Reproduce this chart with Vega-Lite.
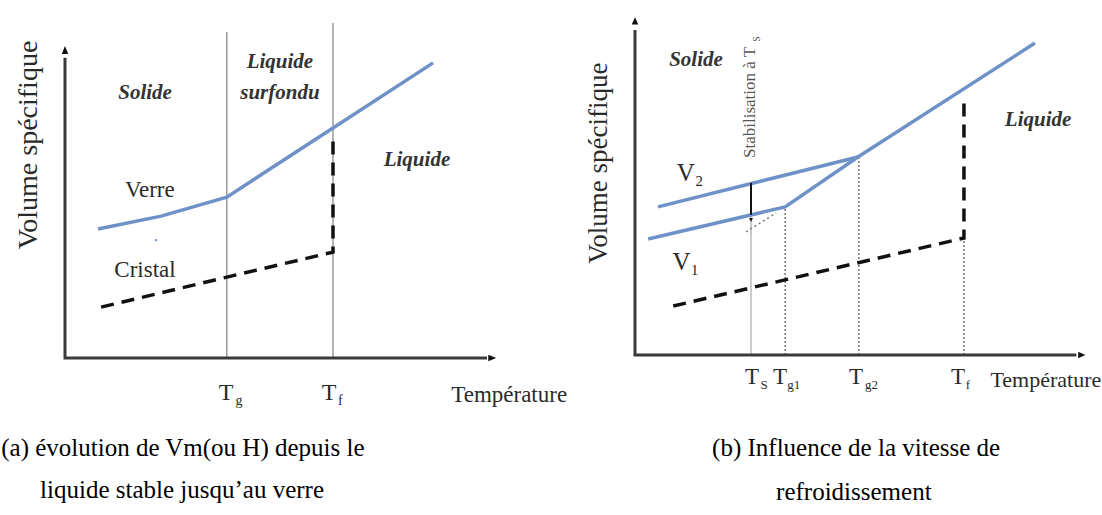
{
  "$schema": "https://vega.github.io/schema/vega-lite/v6.json",
  "background": "white",
  "padding": 0,
  "spacing": 0,
  "bounds": "flush",
  "config": {"view": {"stroke": null}, "text": {"font": "Liberation Serif", "baseline": "middle", "align": "center", "color": "#2a2a2a"}},
  "hconcat": [
    {
      "width": 551,
      "height": 515,
      "encoding": {
        "x": {"field": "t", "type": "quantitative", "scale": {"domain": [-14.25, 112.4], "nice": false, "zero": false}, "axis": null},
        "y": {"field": "v", "type": "quantitative", "scale": {"domain": [-49.7, 113.3], "nice": false, "zero": false}, "axis": null}
      },
      "layer": [
        {"data": {"values": [{"t": 37.2, "v": 0, "v2": 103.2}, {"t": 61.6, "v": 0, "v2": 106}]},
         "mark": {"type": "rule", "color": "#666", "strokeWidth": 1},
         "encoding": {"y2": {"field": "v2"}}},
        {"data": {"values": [{"o": 1, "t": 0, "v": 95}, {"o": 2, "t": 0, "v": 0}, {"o": 3, "t": 97, "v": 0}]},
         "mark": {"type": "line", "color": "#3a3a3a", "strokeWidth": 3, "strokeJoin": "miter"},
         "encoding": {"order": {"field": "o"}}},
        {"data": {"values": [{"t": 0, "v": 97.5, "a": 0}, {"t": 98.2, "v": 0, "a": 90}]},
         "mark": {"type": "point", "shape": "M-0.4,0.5L0,-0.5L0.4,0.5Z", "filled": true, "color": "#111", "size": 256, "opacity": 1},
         "encoding": {"angle": {"field": "a", "type": "quantitative", "scale": null}}},
        {"data": {"values": [{"o": 1, "t": 7.6, "v": 40.8}, {"o": 2, "t": 22.1, "v": 44.9}, {"o": 3, "t": 37.2, "v": 50.9}, {"o": 4, "t": 61.6, "v": 72.8}, {"o": 5, "t": 84.6, "v": 93.4}]},
         "mark": {"type": "line", "color": "#6e92c8", "strokeWidth": 3.5},
         "encoding": {"order": {"field": "o"}}},
        {"data": {"values": [{"o": 1, "t": 8.3, "v": 16.1}, {"o": 2, "t": 37.2, "v": 25.6}, {"o": 3, "t": 61.6, "v": 33.5}, {"o": 4, "t": 61.6, "v": 69.0}]},
         "mark": {"type": "line", "color": "#111", "strokeWidth": 3.5, "strokeDash": [13, 8]},
         "encoding": {"order": {"field": "o"}}},
        {"data": {"values": [{"t": 20.9, "v": 37.3}]},
         "mark": {"type": "point", "filled": true, "color": "#6e92c8", "size": 6, "opacity": 1}},
        {"data": {"values": [{"t": 18.4, "v": 83.9, "txt": "Solide"}, {"t": 49.4, "v": 93.7, "txt": "Liquide"}, {"t": 49.4, "v": 83.9, "txt": "surfondu"}, {"t": 80.9, "v": 62.7, "txt": "Liquide"}]},
         "mark": {"type": "text", "fontSize": 21, "fontWeight": "bold", "fontStyle": "italic", "color": "#333"},
         "encoding": {"text": {"field": "txt"}}},
        {"data": {"values": [{"t": 19.5, "v": 53.2, "txt": "Verre"}, {"t": 18.4, "v": 27.8, "txt": "Cristal"}]},
         "mark": {"type": "text", "fontSize": 23},
         "encoding": {"text": {"field": "txt"}}},
        {"data": {"values": [{"t": 37.0, "v": -11.1, "txt": "T"}, {"t": 60.7, "v": -11.1, "txt": "T"}]},
         "mark": {"type": "text", "fontSize": 24},
         "encoding": {"text": {"field": "txt"}}},
        {"data": {"values": [{"t": 40.0, "v": -13.6, "txt": "g"}, {"t": 63.3, "v": -13.6, "txt": "f"}]},
         "mark": {"type": "text", "fontSize": 14},
         "encoding": {"text": {"field": "txt"}}},
        {"data": {"values": [{"t": 102.1, "v": -11.7, "txt": "Température"}]},
         "mark": {"type": "text", "fontSize": 23},
         "encoding": {"text": {"field": "txt"}}},
        {"data": {"values": [{"t": -8.3, "v": 67.4, "txt": "Volume spécifique"}]},
         "mark": {"type": "text", "fontSize": 28, "angle": 270},
         "encoding": {"text": {"field": "txt"}}},
        {"data": {"values": [{"t": 27.1, "v": -28.5, "txt": "(a) évolution de Vm(ou H) depuis le"}, {"t": 26.9, "v": -41.8, "txt": "liquide stable jusqu’au verre"}]},
         "mark": {"type": "text", "fontSize": 25, "color": "#000"},
         "encoding": {"text": {"field": "txt"}}}
      ]
    },
    {
      "width": 551,
      "height": 515,
      "encoding": {
        "x": {"field": "t", "type": "quantitative", "scale": {"domain": [-17.8, 103.3], "nice": false, "zero": false}, "axis": null},
        "y": {"field": "v", "type": "quantitative", "scale": {"domain": [-46.8, 103.8], "nice": false, "zero": false}, "axis": null}
      },
      "layer": [
        {"data": {"values": [{"t": 25.5, "v": 0, "v2": 50.3}]},
         "mark": {"type": "rule", "color": "#999", "strokeWidth": 1},
         "encoding": {"y2": {"field": "v2"}}},
        {"data": {"values": [{"t": 33.0, "v": 0, "v2": 43.3}, {"t": 49.2, "v": 0, "v2": 57.9}, {"t": 72.3, "v": 0, "v2": 34.2}]},
         "mark": {"type": "rule", "color": "#555", "strokeWidth": 1.2, "strokeDash": [2, 2]},
         "encoding": {"y2": {"field": "v2"}}},
        {"data": {"values": [{"o": 1, "t": 0, "v": 95}, {"o": 2, "t": 0, "v": 0}, {"o": 3, "t": 97, "v": 0}]},
         "mark": {"type": "line", "color": "#3a3a3a", "strokeWidth": 3, "strokeJoin": "miter"},
         "encoding": {"order": {"field": "o"}}},
        {"data": {"values": [{"t": 0, "v": 97.7, "a": 0}, {"t": 98.2, "v": 0, "a": 90}]},
         "mark": {"type": "point", "shape": "M-0.45,0.5L0,-0.5L0.45,0.5Z", "filled": true, "color": "#111", "size": 210, "opacity": 1},
         "encoding": {"angle": {"field": "a", "type": "quantitative", "scale": null}}},
        {"data": {"values": [{"o": 1, "t": 24.4, "v": 36.0}, {"o": 2, "t": 31.0, "v": 41.5}]},
         "mark": {"type": "line", "color": "#777", "strokeWidth": 1.5, "strokeDash": [2, 3]},
         "encoding": {"order": {"field": "o"}}},
        {"data": {"values": [{"o": 1, "t": 5.05, "v": 43.3}, {"o": 2, "t": 49.0, "v": 57.9}]},
         "mark": {"type": "line", "color": "#6e92c8", "strokeWidth": 3.5},
         "encoding": {"order": {"field": "o"}}},
        {"data": {"values": [{"o": 1, "t": 2.9, "v": 33.9}, {"o": 2, "t": 33.0, "v": 43.3}, {"o": 3, "t": 49.0, "v": 57.9}, {"o": 4, "t": 87.9, "v": 91.2}]},
         "mark": {"type": "line", "color": "#6e92c8", "strokeWidth": 3.5},
         "encoding": {"order": {"field": "o"}}},
        {"data": {"values": [{"t": 25.5, "v": 50.3, "v2": 41.0}]},
         "mark": {"type": "rule", "color": "#111", "strokeWidth": 2},
         "encoding": {"y2": {"field": "v2"}}},
        {"data": {"values": [{"t": 25.5, "v": 39.5}]},
         "mark": {"type": "point", "shape": "M-0.5,-0.5L0.5,-0.5L0,0.5Z", "filled": true, "color": "#111", "size": 64, "opacity": 1}},
        {"data": {"values": [{"o": 1, "t": 8.4, "v": 14.3}, {"o": 2, "t": 72.3, "v": 34.2}, {"o": 3, "t": 72.3, "v": 74.6}]},
         "mark": {"type": "line", "color": "#111", "strokeWidth": 3.5, "strokeDash": [13, 8]},
         "encoding": {"order": {"field": "o"}}},
        {"data": {"values": [{"t": 13.4, "v": 86.3, "txt": "Solide"}, {"t": 88.6, "v": 68.7, "txt": "Liquide"}]},
         "mark": {"type": "text", "fontSize": 21, "fontWeight": "bold", "fontStyle": "italic", "color": "#333"},
         "encoding": {"text": {"field": "txt"}}},
        {"data": {"values": [{"t": 12.1, "v": 53.2, "txt": "V₂"}, {"t": 11.2, "v": 27.2, "txt": "V₁"}]},
         "mark": {"type": "text", "fontSize": 25},
         "encoding": {"text": {"field": "txt"}}},
        {"data": {"values": [{"t": 25.3, "v": 90.1, "txt": "Stabilisation à T"}]},
         "mark": {"type": "text", "fontSize": 17, "angle": 270, "align": "right", "color": "#555"},
         "encoding": {"text": {"field": "txt"}}},
        {"data": {"values": [{"t": 26.8, "v": 92.4, "txt": "S"}]},
         "mark": {"type": "text", "fontSize": 10, "angle": 270, "color": "#555"},
         "encoding": {"text": {"field": "txt"}}},
        {"data": {"values": [{"t": 25.7, "v": -6.4, "txt": "T"}, {"t": 31.9, "v": -6.4, "txt": "T"}, {"t": 48.6, "v": -6.4, "txt": "T"}, {"t": 71.0, "v": -6.4, "txt": "T"}]},
         "mark": {"type": "text", "fontSize": 23},
         "encoding": {"text": {"field": "txt"}}},
        {"data": {"values": [{"t": 28.4, "v": -8.8, "txt": "S"}, {"t": 34.9, "v": -8.8, "txt": "g1"}, {"t": 52.0, "v": -8.8, "txt": "g2"}, {"t": 73.2, "v": -8.8, "txt": "f"}]},
         "mark": {"type": "text", "fontSize": 13},
         "encoding": {"text": {"field": "txt"}}},
        {"data": {"values": [{"t": 90.3, "v": -7.3, "txt": "Température"}]},
         "mark": {"type": "text", "fontSize": 22},
         "encoding": {"text": {"field": "txt"}}},
        {"data": {"values": [{"t": -7.9, "v": 56.1, "txt": "Volume spécifique"}]},
         "mark": {"type": "text", "fontSize": 27, "angle": 270},
         "encoding": {"text": {"field": "txt"}}},
        {"data": {"values": [{"t": 48.6, "v": -27.2, "txt": "(b) Influence de la vitesse de"}, {"t": 48.1, "v": -40.1, "txt": "refroidissement"}]},
         "mark": {"type": "text", "fontSize": 25, "color": "#000"},
         "encoding": {"text": {"field": "txt"}}}
      ]
    }
  ]
}
